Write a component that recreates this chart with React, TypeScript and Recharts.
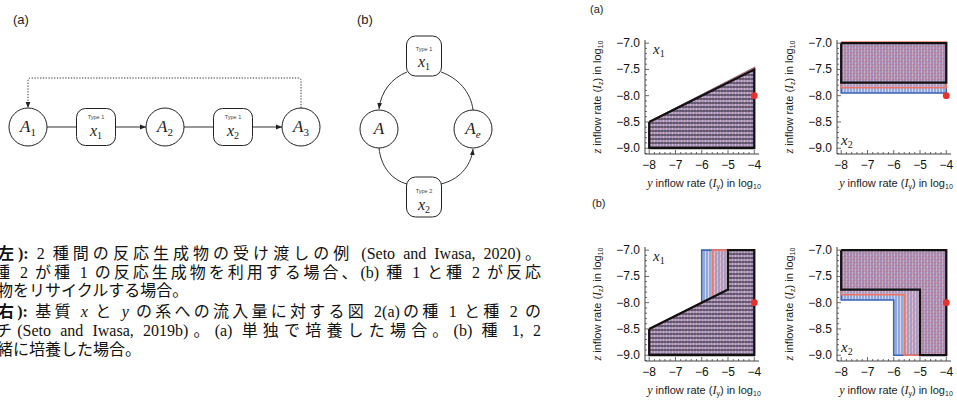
import React from "react";
import { ComposedChart, Area, Scatter, XAxis, YAxis } from "recharts";

type Cell = { x: number; range: [number, number] };

// axis ranges of the four small plots (log10 inflow rates)
const xTicks = [-8, -7, -6, -5, -4];
const yTicks = [-9, -8.5, -8, -7.5, -7];
const xDomain: [number, number] = [-8.16, -3.82];
const yDomain: [number, number] = [-9.11, -6.94];

// (a) each species cultured alone
const a1Blue: Cell[] = [{ x: -8, range: [-9, -8.5] }, { x: -4, range: [-9, -7.47] }];
const a1Red: Cell[] = [{ x: -8, range: [-9, -8.5] }, { x: -4, range: [-9, -7.48] }];
const a1Black: Cell[] = [{ x: -8, range: [-9, -8.5] }, { x: -4, range: [-9, -7.5] }];

const a2Blue: Cell[] = [{ x: -8, range: [-7.95, -7] }, { x: -4, range: [-7.95, -7] }];
const a2Red: Cell[] = [{ x: -8, range: [-7.85, -6.98] }, { x: -4, range: [-7.85, -6.98] }];
const a2Black: Cell[] = [{ x: -8, range: [-7.75, -7] }, { x: -4, range: [-7.75, -7] }];

// (b) species 1 and 2 cultured together
const b1Blue: Cell[] = [
  { x: -8, range: [-9, -8.5] },
  { x: -6, range: [-9, -8] },
  { x: -6, range: [-9, -7] },
  { x: -4, range: [-9, -7] },
];
const b1Red: Cell[] = [
  { x: -8, range: [-9, -8.5] },
  { x: -5.6, range: [-9, -7.9] },
  { x: -5.6, range: [-9, -7] },
  { x: -4, range: [-9, -7] },
];
const b1Black: Cell[] = [
  { x: -8, range: [-9, -8.5] },
  { x: -5, range: [-9, -7.75] },
  { x: -5, range: [-9, -7] },
  { x: -4, range: [-9, -7] },
];

const b2Blue: Cell[] = [
  { x: -8, range: [-7.95, -7] },
  { x: -6, range: [-7.95, -7] },
  { x: -6, range: [-9, -7] },
  { x: -4, range: [-9, -7] },
];
const b2Red: Cell[] = [
  { x: -8, range: [-7.85, -7] },
  { x: -5.6, range: [-7.85, -7] },
  { x: -5.6, range: [-9, -7] },
  { x: -4, range: [-9, -7] },
];
const b2Black: Cell[] = [
  { x: -8, range: [-7.75, -7] },
  { x: -5, range: [-7.75, -7] },
  { x: -5, range: [-9, -7] },
  { x: -4, range: [-9, -7] },
];

const focalPoint = [{ x: -4, y: -8 }];

// frame tick marks (major + minor)
const xMarks = Array.from({ length: 21 }, (_, i) => -8 + i * 0.2);
const yMarks = Array.from({ length: 22 }, (_, i) => -9.1 + i * 0.1);

const SANS = "'Liberation Sans', Arial, sans-serif";
const SERIF = "'Liberation Serif', 'Times New Roman', serif";
const frameLine = { stroke: "#444", strokeWidth: 1 };

const outline = (cells: Cell[]) => {
  const top = cells.map((c) => ({ x: c.x, y: c.range[1] }));
  const bottom = [...cells].reverse().map((c) => ({ x: c.x, y: c.range[0] }));
  return [...top, ...bottom, top[0]];
};

const minus = (v: number, digits: number) => "\u2212" + Math.abs(v).toFixed(digits);

function XTick({ x, y, payload, side }: any) {
  const v = payload.value;
  const major = Math.abs(v - Math.round(v)) < 1e-6;
  const dir = side === "bottom" ? -1 : 1;
  return (
    <g>
      <line x1={x} x2={x} y1={y} y2={y + dir * (major ? 4 : 2)} stroke="#444" strokeWidth={0.8} />
      {side === "bottom" && major && (
        <text x={x} y={y + 15} textAnchor="middle" fontSize={12} fontFamily={SANS} fill="#111">
          {minus(v, 0)}
        </text>
      )}
    </g>
  );
}

function YTick({ x, y, payload, side }: any) {
  const v = payload.value;
  const major = Math.abs(v * 2 - Math.round(v * 2)) < 1e-6;
  const dir = side === "left" ? 1 : -1;
  return (
    <g>
      <line x1={x} x2={x + dir * (major ? 4 : 2)} y1={y} y2={y} stroke="#444" strokeWidth={0.8} />
      {side === "left" && major && (
        <text x={x - 5} y={y + 4} textAnchor="end" fontSize={12} fontFamily={SANS} fill="#111">
          {minus(v, 1)}
        </text>
      )}
    </g>
  );
}

const noShape = () => <g />;
const redDot = (p: any) => <circle cx={p.cx} cy={p.cy} r={3.4} fill="#e8302e" />;

function Panel({ left, top, blue, red, black, blackFill }: {
  left: number; top: number; blue: Cell[]; red: Cell[]; black: Cell[]; blackFill: string;
}) {
  return (
    <div style={{ position: "absolute", left, top }}>
      <ComposedChart width={185} height={164} margin={{ top: 10, right: 6, bottom: 0, left: 0 }}>
        <XAxis dataKey="x" type="number" domain={xDomain} allowDataOverflow ticks={xMarks} interval={0}
          height={40} tickSize={0} tickMargin={0} tickLine={false} axisLine={frameLine}
          tick={(p: any) => <XTick {...p} side="bottom" />} />
        <XAxis xAxisId="top" orientation="top" dataKey="x" type="number" domain={xDomain} allowDataOverflow
          ticks={xMarks} interval={0} height={0} tickSize={0} tickMargin={0} tickLine={false} axisLine={frameLine}
          tick={(p: any) => <XTick {...p} side="top" />} />
        <YAxis dataKey="y" type="number" domain={yDomain} allowDataOverflow ticks={yMarks} interval={0}
          width={65} tickSize={0} tickMargin={0} tickLine={false} axisLine={frameLine}
          tick={(p: any) => <YTick {...p} side="left" />} />
        <YAxis yAxisId="right" orientation="right" dataKey="y" type="number" domain={yDomain} allowDataOverflow
          ticks={yMarks} interval={0} width={0} tickSize={0} tickMargin={0} tickLine={false} axisLine={frameLine}
          tick={(p: any) => <YTick {...p} side="right" />} />
        <Area data={blue} dataKey="range" type="linear" stroke="none" fill="url(#hatchBlue)" fillOpacity={1} isAnimationActive={false} />
        <Area data={red} dataKey="range" type="linear" stroke="none" fill="url(#hatchRed)" fillOpacity={1} isAnimationActive={false} />
        <Area data={black} dataKey="range" type="linear" stroke="none" fill={blackFill} fillOpacity={1} isAnimationActive={false} />
        <Scatter data={outline(blue)} line={{ stroke: "#3a62b6", strokeWidth: 1.6 }} lineType="joint" shape={noShape} isAnimationActive={false} />
        <Scatter data={outline(red)} line={{ stroke: "#f07563", strokeWidth: 1.6 }} lineType="joint" shape={noShape} isAnimationActive={false} />
        <Scatter data={outline(black)} line={{ stroke: "#111", strokeWidth: 2.2 }} lineType="joint" shape={noShape} isAnimationActive={false} />
        <Scatter data={focalPoint} shape={redDot} isAnimationActive={false} />
      </ComposedChart>
    </div>
  );
}

const sub = (s: string) => (
  <sub style={{ fontSize: 7, verticalAlign: "-2px", lineHeight: 0 }}>{s}</sub>
);

function AxisLabel({ cx, cy, v, rotate }: { cx: number; cy: number; v: string; rotate?: boolean }) {
  return (
    <div
      style={{
        position: "absolute", left: cx - 75, top: cy - 8, width: 150, height: 16, lineHeight: "16px",
        textAlign: "center", fontFamily: SANS, fontSize: 11, color: "#222", whiteSpace: "nowrap",
        transform: rotate ? "rotate(-90deg)" : undefined,
      }}
    >
      <i style={{ fontFamily: SERIF, fontSize: 12 }}>{v}</i> inflow rate (<i style={{ fontFamily: SERIF, fontSize: 12 }}>I</i>
      {sub(v)}) in log{sub("10")}
    </div>
  );
}

function InnerLabel({ left, top, n }: { left: number; top: number; n: string }) {
  return (
    <div style={{ position: "absolute", left, top, fontFamily: SERIF, fontStyle: "italic", fontSize: 15, color: "#222" }}>
      x<sub style={{ fontSize: 10, fontStyle: "normal", verticalAlign: "-3px", lineHeight: 0 }}>{n}</sub>
    </div>
  );
}

function Node({ cx, cy, name, s, italicSub }: { cx: number; cy: number; name: string; s: string; italicSub?: boolean }) {
  return (
    <g>
      <circle cx={cx} cy={cy} r={19} fill="#fff" stroke="#222" strokeWidth={1} />
      <text x={cx} y={cy + 5} textAnchor="middle" fontFamily={SERIF} fontStyle="italic" fontSize={17} fill="#222">
        {name}
        {s && <tspan fontSize={11} dy={4} fontStyle={italicSub ? "italic" : "normal"}>{s}</tspan>}
      </text>
    </g>
  );
}

function Box({ cx, cy, w, h, type, s, dt, dx }: { cx: number; cy: number; w: number; h: number; type: string; s: string; dt: number; dx: number }) {
  return (
    <g>
      <rect x={cx - w / 2} y={cy - h / 2} width={w} height={h} rx={9} fill="#fff" stroke="#222" strokeWidth={1} />
      <text x={cx} y={cy + dt} textAnchor="middle" fontFamily={SANS} fontSize={5.5} fill="#444">{type}</text>
      <text x={cx} y={cy + dx} textAnchor="middle" fontFamily={SERIF} fontStyle="italic" fontSize={16} fill="#222">
        x<tspan fontSize={10} dy={3} fontStyle="normal">{s}</tspan>
      </text>
    </g>
  );
}

function Diagram() {
  const line = { stroke: "#333", strokeWidth: 1, fill: "none" };
  return (
    <svg width={545} height={225} style={{ position: "absolute", left: 0, top: 0 }}>
      <defs>
        <marker id="arrowHead" markerWidth="6" markerHeight="6" refX="6" refY="3" orient="auto" markerUnits="userSpaceOnUse">
          <path d="M0,0.6 L6,3 L0,5.4 Z" fill="#222" />
        </marker>
      </defs>
      <text x={13} y={24} fontFamily={SANS} fontSize={13} fill="#222">(a)</text>
      <text x={357} y={24} fontFamily={SANS} fontSize={13} fill="#222">(b)</text>

      <path d="M301 108 V81 Q301 78 298 78 H31 Q28 78 28 81 V108" {...line} strokeDasharray="1.3 1.5" markerEnd="url(#arrowHead)" />
      <line x1={47} y1={127} x2={77} y2={127} {...line} />
      <line x1={115} y1={127} x2={146} y2={127} {...line} markerEnd="url(#arrowHead)" />
      <line x1={184} y1={127} x2={214} y2={127} {...line} />
      <line x1={252} y1={127} x2={282} y2={127} {...line} markerEnd="url(#arrowHead)" />
      <Node cx={28} cy={127} name="A" s="1" />
      <Box cx={96} cy={127} w={39} h={37} type="Type 1" s="1" dt={-8} dx={9} />
      <Node cx={165} cy={127} name="A" s="2" />
      <Box cx={233} cy={127} w={39} h={37} type="Type 1" s="2" dt={-8} dx={9} />
      <Node cx={301} cy={127} name="A" s="3" />

      <path d="M407 72 C392 78 381 91 379 109" {...line} markerEnd="url(#arrowHead)" />
      <path d="M441 72 C458 78 471 92 473 110" {...line} />
      <path d="M379 148 C381 167 392 180 407 184" {...line} />
      <path d="M441 184 C458 180 471 167 473 149" {...line} markerEnd="url(#arrowHead)" />
      <Node cx={379} cy={129} name="A" s="" />
      <Node cx={473} cy={129} name="A" s="e" italicSub />
      <Box cx={424} cy={56} w={35} h={40} type="Type 1" s="1" dt={-5} dx={11} />
      <Box cx={424} cy={197} w={35} h={40} type="Type 2" s="2" dt={-4} dx={13} />
    </svg>
  );
}

const CJK = "'Liberation Serif', 'Noto Sans CJK JP', serif";

function CaptionLine({ left, top, justify, children }: { left: number; top: number; justify?: boolean; children: React.ReactNode }) {
  return (
    <div
      style={{
        position: "absolute", left, top, width: 541 - left, height: 19, lineHeight: "19px",
        fontFamily: CJK, fontSize: 16, color: "#111",
        textAlign: "left", textAlignLast: justify ? "justify" : "left",
      }}
    >
      {children}
    </div>
  );
}

export default function App() {
  return (
    <div style={{ position: "absolute", left: 0, top: 0, width: 957, height: 401, background: "#fff", overflow: "hidden" }}>
      <svg width={0} height={0} style={{ position: "absolute" }}>
        <defs>
          <pattern id="hatchBlue" patternUnits="userSpaceOnUse" width="3" height="3">
            <rect width="3" height="3" fill="rgba(120,150,220,0.38)" />
            <line x1="1" y1="0" x2="1" y2="3" stroke="rgba(50,95,190,0.85)" strokeWidth="0.9" />
          </pattern>
          <pattern id="hatchRed" patternUnits="userSpaceOnUse" width="4" height="4" patternTransform="rotate(45)">
            <rect width="4" height="4" fill="rgba(235,130,140,0.22)" />
            <line x1="1" y1="0" x2="1" y2="4" stroke="rgba(235,110,95,0.6)" strokeWidth="0.8" />
          </pattern>
          <pattern id="hatchBlack" patternUnits="userSpaceOnUse" width="4" height="4">
            <rect width="4" height="4" fill="rgba(70,40,90,0.08)" />
            <line x1="0" y1="1" x2="4" y2="1" stroke="rgba(20,15,30,0.85)" strokeWidth="1.1" />
          </pattern>
          <pattern id="hatchDark" patternUnits="userSpaceOnUse" width="3" height="3">
            <rect width="3" height="3" fill="rgba(70,40,100,0.1)" />
            <line x1="0" y1="1.5" x2="3" y2="1.5" stroke="rgba(200,90,110,0.4)" strokeWidth="0.7" />
          </pattern>
        </defs>
      </svg>

      <Diagram />

      <CaptionLine left={-2} top={244} justify>
        <b>左):</b> 2 種間の反応生成物の受け渡しの例 (Seto and Iwasa, 2020)。
      </CaptionLine>
      <CaptionLine left={-6} top={263} justify>
        種 2 が種 1 の反応生成物を利用する場合、(b) 種 1 と種 2 が反応
      </CaptionLine>
      <CaptionLine left={-3} top={281}>物をリサイクルする場合。</CaptionLine>
      <CaptionLine left={-2} top={302} justify>
        <b>右):</b> 基質 <i>x</i> と <i>y</i> の系への流入量に対する図 2(a)の種 1 と種 2 の
      </CaptionLine>
      <CaptionLine left={-4} top={321} justify>
        チ(Seto and Iwasa, 2019b)。(a) 単独で培養した場合。(b) 種 1, 2
      </CaptionLine>
      <CaptionLine left={-3} top={340}>緒に培養した場合。</CaptionLine>

      <div style={{ position: "absolute", left: 590, top: 3, fontFamily: SANS, fontSize: 11, color: "#222" }}>(a)</div>
      <div style={{ position: "absolute", left: 592, top: 197, fontFamily: SANS, fontSize: 11, color: "#222" }}>(b)</div>

      <Panel left={580} top={30} blue={a1Blue} red={a1Red} black={a1Black} blackFill="url(#hatchBlack)" />
      <Panel left={772} top={30} blue={a2Blue} red={a2Red} black={a2Black} blackFill="url(#hatchDark)" />
      <Panel left={580} top={237} blue={b1Blue} red={b1Red} black={b1Black} blackFill="url(#hatchBlack)" />
      <Panel left={772} top={237} blue={b2Blue} red={b2Red} black={b2Black} blackFill="url(#hatchDark)" />

      <InnerLabel left={653} top={41} n="1" />
      <InnerLabel left={841} top={132} n="2" />
      <InnerLabel left={653} top={248} n="1" />
      <InnerLabel left={841} top={339} n="2" />

      <AxisLabel cx={597} cy={97} v="z" rotate />
      <AxisLabel cx={789} cy={97} v="z" rotate />
      <AxisLabel cx={597} cy={304} v="z" rotate />
      <AxisLabel cx={789} cy={304} v="z" rotate />
      <AxisLabel cx={704} cy={183} v="y" />
      <AxisLabel cx={896} cy={183} v="y" />
      <AxisLabel cx={704} cy={390} v="y" />
      <AxisLabel cx={896} cy={390} v="y" />
    </div>
  );
}
